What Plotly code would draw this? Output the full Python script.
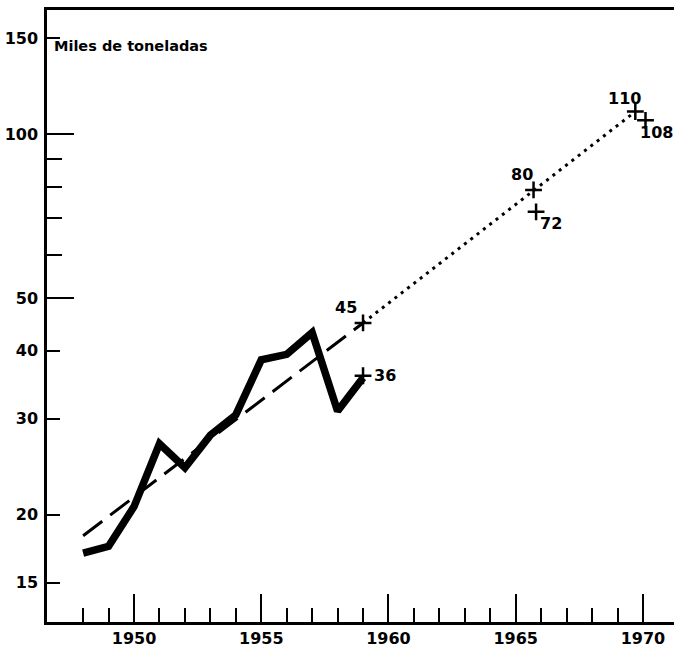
import numpy as np
import plotly.graph_objects as go

# Actual production (thousand tonnes)
years = [1948, 1949, 1950, 1951, 1952, 1953, 1954, 1955, 1956, 1957, 1958, 1959]
actual = [17.0, 17.5, 20.7, 27.0, 24.4, 28.0, 30.5, 38.5, 39.4, 43.2, 31.0, 35.7]

# Trend line (dashed)
trend_years = [1948, 1959]
trend_vals = [18.3, 45]

# Projection (dotted)
proj_years = [1959, 1969.7]
proj_vals = [45, 110]

# Labelled points
pt_years = [1959, 1959, 1965.7, 1965.8, 1969.7, 1970.1]
pt_vals = [45, 36, 79, 72, 110, 106]
pt_text = ["45", "36", "80", "72", "110", "108"]
pt_dx = [-17, 22, -12, 15, -11, 11]
pt_dy = [15, 0, 15, -12, 13, -12]

y_ticks = [15, 20, 30, 40, 50, 100, 150]
y_minor = [60, 70, 80, 90]
y_long = [50, 100]
x_ticks = [1950, 1955, 1960, 1965, 1970]
x_minor = list(range(1948, 1970))

FONT = "DejaVu Sans"

fig = go.Figure()
fig.add_trace(go.Scatter(x=trend_years, y=trend_vals, mode="lines",
                         line=dict(color="black", width=3, dash="24px,10px"),
                         hoverinfo="skip"))
fig.add_trace(go.Scatter(x=proj_years, y=proj_vals, mode="lines",
                         line=dict(color="black", width=3, dash="3px,5px"),
                         hoverinfo="skip"))
fig.add_trace(go.Scatter(x=years, y=actual, mode="lines",
                         line=dict(color="black", width=7.5),
                         hoverinfo="skip"))
fig.add_trace(go.Scatter(x=pt_years, y=pt_vals, mode="markers",
                         marker=dict(symbol="cross-thin", size=12,
                                     line=dict(color="black", width=2.5)),
                         hoverinfo="skip"))
# helper trace for secondary (long tick) axis
fig.add_trace(go.Scatter(x=[None], y=[None], yaxis="y2", showlegend=False))

for xv, yv, t, dx, dy in zip(pt_years, pt_vals, pt_text, pt_dx, pt_dy):
    fig.add_annotation(x=xv, y=np.log10(yv), text=t, showarrow=False,
                       xshift=dx, yshift=dy,
                       font=dict(family=FONT, size=16, color="black", weight="bold"))

fig.add_annotation(xref="paper", yref="paper", x=0.008, y=0.9415, text="Miles de toneladas",
                   showarrow=False, xanchor="left", yanchor="middle",
                   font=dict(family=FONT, size=14.5, color="black", weight="bold"))

yrange = [1.104, 2.228]
fig.update_layout(
    width=674, height=648,
    margin=dict(l=47, r=0, t=10, b=22),
    paper_bgcolor="white", plot_bgcolor="white",
    showlegend=False,
    font=dict(family=FONT, color="black"),
    xaxis=dict(range=[1946.58, 1971.22], showgrid=False, zeroline=False,
               showline=True, linecolor="black", linewidth=2.5, mirror=True,
               tickmode="array", tickvals=x_ticks, ticktext=[str(v) for v in x_ticks],
               ticks="inside", ticklen=28, tickwidth=2, tickcolor="black",
               ticklabelstandoff=0,
               tickfont=dict(family=FONT, size=16, color="black", weight="bold"),
               minor=dict(tickmode="array", tickvals=x_minor, ticks="inside",
                          ticklen=14, tickwidth=2, tickcolor="black", showgrid=False)),
    yaxis=dict(type="log", range=yrange, showgrid=False, zeroline=False,
               showline=True, linecolor="black", linewidth=2.5,
               tickmode="array", tickvals=y_ticks, ticktext=[str(v) for v in y_ticks],
               ticks="inside", ticklen=13, tickwidth=2, tickcolor="black",
               ticklabelstandoff=3,
               tickfont=dict(family=FONT, size=16, color="black", weight="bold"),
               minor=dict(tickmode="array", tickvals=y_minor, ticks="inside",
                          ticklen=15, tickwidth=2, tickcolor="black", showgrid=False)),
    yaxis2=dict(type="log", range=yrange, overlaying="y", side="left",
                showgrid=False, zeroline=False, showline=False,
                tickmode="array", tickvals=y_long, showticklabels=False,
                ticks="inside", ticklen=27, tickwidth=2, tickcolor="black"),
)

fig.write_html("out.html", config={"displayModeBar": False},
               post_script="document.body.style.margin='0';document.body.style.overflow='hidden';")
